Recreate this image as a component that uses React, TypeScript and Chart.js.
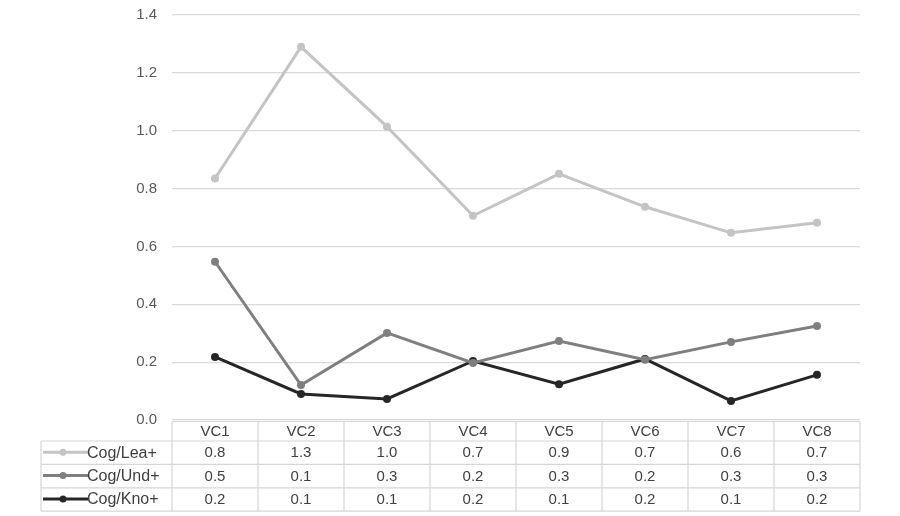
import React, { useEffect, useRef } from "react";
import { Chart, registerables } from "chart.js";

Chart.register(...registerables);

const categories = ["VC1", "VC2", "VC3", "VC4", "VC5", "VC6", "VC7", "VC8"];
const seriesNames = ["Cog/Lea+", "Cog/Und+", "Cog/Kno+"];
const leaValues = [0.835, 1.29, 1.014, 0.706, 0.851, 0.737, 0.647, 0.682];
const undValues = [0.547, 0.121, 0.301, 0.197, 0.273, 0.208, 0.27, 0.325];
const knoValues = [0.218, 0.09, 0.073, 0.204, 0.124, 0.211, 0.066, 0.156];
const seriesColors = ["#c4c4c4", "#7f7f7f", "#262626"];
const yTicks = [0, 0.2, 0.4, 0.6, 0.8, 1.0, 1.2, 1.4];

const FONT = "'Liberation Sans', Arial, sans-serif";

const tablePlugin = {
  id: "dataTable",
  afterDraw(chart: any) {
    const ctx = chart.ctx as CanvasRenderingContext2D;
    const area = chart.chartArea;
    const xs = chart.scales.x;
    const n = categories.length;
    const colW = (area.right - area.left) / n;
    const top = area.bottom + 1.5;
    const headerH = 19.5;
    const rowH = 23.4;
    const tableLeft = 41;
    const rows = chart.data.datasets.length;
    const bottom = top + headerH + rowH * rows;
    ctx.save();
    ctx.strokeStyle = "#d6d6d6";
    ctx.lineWidth = 1.2;
    ctx.beginPath();
    ctx.moveTo(area.left, top);
    ctx.lineTo(area.right, top);
    for (let r = 0; r <= rows; r++) {
      const y = top + headerH + r * rowH;
      ctx.moveTo(tableLeft, y);
      ctx.lineTo(area.right, y);
    }
    ctx.moveTo(tableLeft, top + headerH);
    ctx.lineTo(tableLeft, bottom);
    for (let c = 0; c <= n; c++) {
      const x = area.left + c * colW;
      ctx.moveTo(x, top);
      ctx.lineTo(x, bottom);
    }
    ctx.stroke();

    ctx.textAlign = "center";
    ctx.textBaseline = "middle";
    ctx.fillStyle = "#404040";
    ctx.font = `15px ${FONT}`;
    categories.forEach((cat, i) => {
      ctx.fillText(cat, xs.getPixelForValue(i), top + headerH / 2 + 1);
    });
    chart.data.datasets.forEach((ds: any, r: number) => {
      const yc = top + headerH + r * rowH + rowH / 2 + 0.5;
      ctx.font = `15px ${FONT}`;
      ds.data.forEach((v: number, i: number) => {
        ctx.textAlign = "center";
        ctx.fillText(v.toFixed(1), xs.getPixelForValue(i), yc);
      });
      ctx.strokeStyle = ds.borderColor;
      ctx.lineWidth = 3;
      ctx.beginPath();
      ctx.moveTo(tableLeft + 2, yc - 1);
      ctx.lineTo(tableLeft + 47, yc - 1);
      ctx.stroke();
      ctx.fillStyle = ds.borderColor;
      ctx.beginPath();
      ctx.arc(tableLeft + 22, yc - 1, 3.5, 0, Math.PI * 2);
      ctx.fill();
      ctx.fillStyle = "#404040";
      ctx.textAlign = "left";
      ctx.font = `16px ${FONT}`;
      ctx.fillText(ds.label, tableLeft + 46, yc);
    });
    ctx.restore();
  },
};

export default function App() {
  const ref = useRef<HTMLCanvasElement | null>(null);
  useEffect(() => {
    if (!ref.current) return;
    const all = [leaValues, undValues, knoValues];
    const chart = new Chart(ref.current, {
      type: "line",
      data: {
        labels: categories,
        datasets: all.map((vals, i) => ({
          label: seriesNames[i],
          data: vals,
          borderColor: seriesColors[i],
          backgroundColor: seriesColors[i],
          borderWidth: 3,
          pointRadius: 4,
          pointHoverRadius: 4,
          pointBorderWidth: 0,
          tension: 0,
        })),
      },
      options: {
        animation: false,
        responsive: false,
        maintainAspectRatio: false,
        layout: { padding: { left: 0, right: 40, top: 15, bottom: 96 } },
        plugins: { legend: { display: false }, tooltip: { enabled: false } },
        scales: {
          x: { display: false, offset: true },
          y: {
            min: 0,
            max: 1.4,
            afterFit(scale: any) {
              scale.width = 172;
              scale.paddingTop = 0;
              scale.paddingBottom = 0;
            },
            afterBuildTicks(scale: any) {
              scale.ticks = yTicks.map((v) => ({ value: v }));
            },
            border: { display: false },
            grid: { color: "#d9d9d9", lineWidth: 1.2, drawTicks: false },
            ticks: {
              padding: 15,
              color: "#595959",
              font: { family: FONT, size: 15 },
              callback: (v: any) => Number(v).toFixed(1),
            },
          },
        },
      },
      plugins: [tablePlugin],
    });
    return () => chart.destroy();
  }, []);
  return (
    <div style={{ position: "absolute", left: 0, top: 0, width: 900, height: 516, background: "#fff" }}>
      <canvas ref={ref} width={900} height={516} style={{ width: 900, height: 516 }} />
    </div>
  );
}
